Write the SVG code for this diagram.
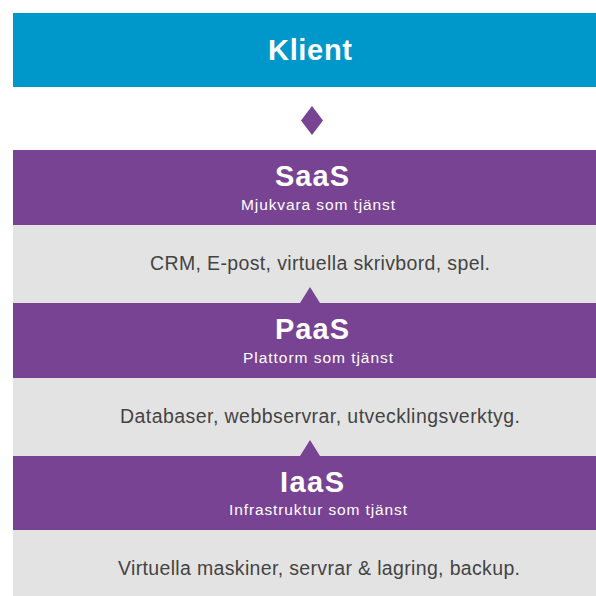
<svg xmlns="http://www.w3.org/2000/svg" width="596" height="596" viewBox="0 0 596 596">
<style>
.title{font-family:"Liberation Sans",Arial,sans-serif;font-weight:bold;fill:#fff;text-anchor:middle;font-size:29px}
.sub{font-family:"Liberation Sans",Arial,sans-serif;font-size:15.5px;fill:#fff;text-anchor:middle}
.desc{font-family:"Liberation Sans",Arial,sans-serif;font-size:19.5px;fill:#444;text-anchor:middle}
.purple{fill:#784393}
.gray{fill:#e3e3e3}
</style>
<rect width="596" height="596" fill="#fff"/>
<g id="klient">
<rect x="13" y="13" width="583" height="74" fill="#0098ca"/>
<text class="title" x="310" y="60" textLength="84">Klient</text>
</g>
<g id="band-saas"><rect class="gray" x="13" y="225" width="583" height="78"/>
<text class="desc" x="320" y="270" textLength="340">CRM, E-post, virtuella skrivbord, spel.</text></g>
<g id="band-paas"><rect class="gray" x="13" y="378" width="583" height="78"/>
<text class="desc" x="320" y="423" textLength="400">Databaser, webbservrar, utvecklingsverktyg.</text></g>
<g id="band-iaas"><rect class="gray" x="13" y="530" width="583" height="66"/>
<text class="desc" x="319" y="575" textLength="402">Virtuella maskiner, servrar &amp; lagring, backup.</text></g>
<g id="saas">
<rect class="purple" x="13" y="150" width="583" height="75"/>
<text class="title" x="312" y="186" textLength="74">SaaS</text>
<text class="sub" x="318" y="210" textLength="154">Mjukvara som tjänst</text>
</g>
<g id="paas">
<rect class="purple" x="13" y="303" width="583" height="75"/>
<text class="title" x="312" y="339" textLength="74">PaaS</text>
<text class="sub" x="318" y="363" textLength="150">Plattorm som tjänst</text>
</g>
<g id="iaas">
<rect class="purple" x="13" y="456" width="583" height="74"/>
<text class="title" x="312" y="492" textLength="64">IaaS</text>
<text class="sub" x="318" y="515" textLength="178">Infrastruktur som tjänst</text>
</g>
<g id="connectors">
<path class="purple" d="M312 106 L323 120.5 L312 135 L301 120.5 Z"/>
<path class="purple" d="M310 287 L320 303 L300 303 Z"/>
<path class="purple" d="M310 440 L320 456 L300 456 Z"/>
</g>
</svg>
